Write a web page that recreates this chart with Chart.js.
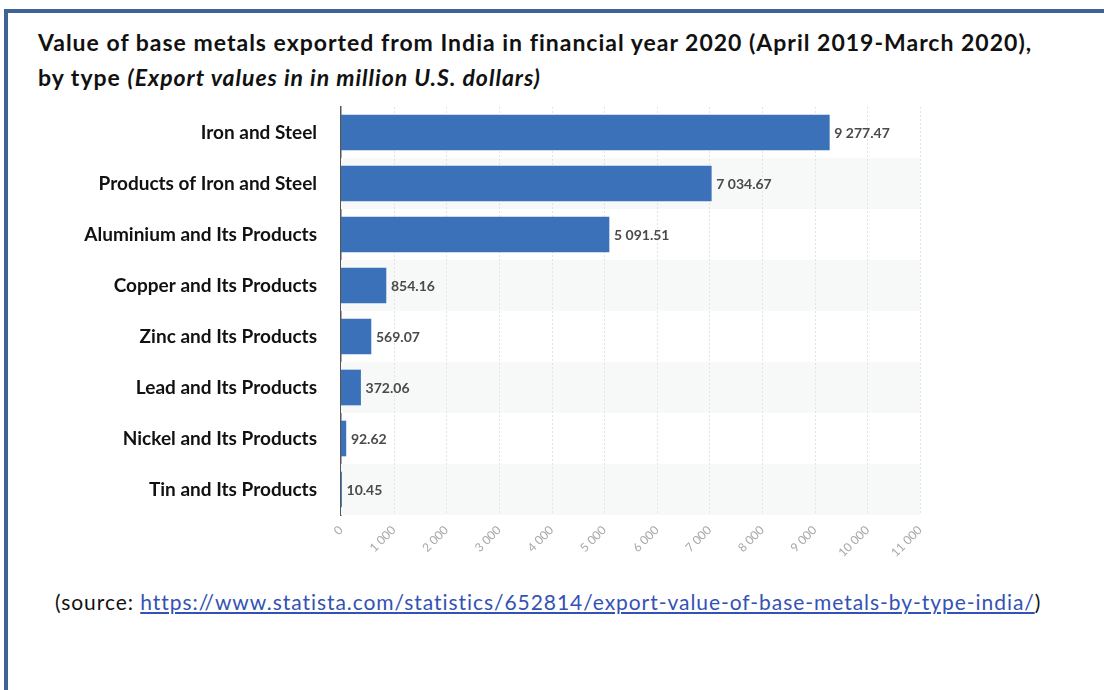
<!DOCTYPE html>
<html>
<head>
<meta charset="utf-8">
<script src="https://cdn.jsdelivr.net/npm/chart.js@4.4.1/dist/chart.umd.min.js"></script>
<style>
  html, body { margin: 0; padding: 0; background: #fff; }
  body { width: 1104px; height: 690px; position: relative; overflow: hidden; font-family: Lato, "Open Sans", sans-serif; }
  #frame { position: absolute; left: 4px; top: 9px; width: 1200px; height: 800px; border-left: 4px solid #406395; border-top: 4px solid #406395; box-sizing: border-box; }
  #title { position: absolute; left: 38px; top: 25px; font-weight: bold; font-size: 23px; letter-spacing: 1px; line-height: 35px; color: #111; white-space: nowrap; }
  #title i { font-style: italic; }
  #wrap { position: absolute; left: 0; top: 100px; width: 1104px; height: 480px; }
  #source { position: absolute; left: 55px; top: 589px; font-size: 21px; letter-spacing: 0.95px; color: #111; white-space: nowrap; }
  #source a { color: #3352b5; text-decoration: underline; }
</style>
</head>
<body>
<div id="frame"></div>
<div id="title">Value of base metals exported from India in financial year 2020 (April 2019-March 2020),<br>by type <i>(Export values in in million U.S. dollars)</i></div>
<div id="wrap"><canvas id="c" width="1104" height="480"></canvas></div>
<div id="source">(source: <a href="#">https://www.statista.com/statistics/652814/export-value-of-base-metals-by-type-india/</a>)</div>
<script>
const categories = [
  "Iron and Steel",
  "Products of Iron and Steel",
  "Aluminium and Its Products",
  "Copper and Its Products",
  "Zinc and Its Products",
  "Lead and Its Products",
  "Nickel and Its Products",
  "Tin and Its Products"
];
const exportValues = [9277.47, 7034.67, 5091.51, 854.16, 569.07, 372.06, 92.62, 10.45];
const xTickValues = [0, 1000, 2000, 3000, 4000, 5000, 6000, 7000, 8000, 9000, 10000, 11000];

function fmtThousands(v, decimals) {
  const s = Number(v).toFixed(decimals);
  const parts = s.split('.');
  parts[0] = parts[0].replace(/\B(?=(\d{3})+(?!\d))/g, ' ');
  return parts.join('.');
}

const bandPlugin = {
  id: 'bands',
  beforeDatasetsDraw(chart) {
    const { ctx, chartArea, scales } = chart;
    const y = scales.y;
    const step = (chartArea.bottom - chartArea.top) / categories.length;
    ctx.save();
    ctx.fillStyle = '#f7f8f8';
    for (let i = 1; i < categories.length; i += 2) {
      const cy = y.getPixelForValue(i);
      ctx.fillRect(chartArea.left, cy - step / 2, chartArea.right - chartArea.left, step);
    }
    ctx.strokeStyle = '#e3e3e3';
    ctx.lineWidth = 1;
    ctx.setLineDash([2, 2]);
    xTickValues.forEach(v => {
      if (v === 0) return;
      const px = Math.round(scales.x.getPixelForValue(v)) + 0.5;
      ctx.beginPath();
      ctx.moveTo(px, chartArea.top);
      ctx.lineTo(px, chartArea.bottom);
      ctx.stroke();
    });
    ctx.restore();
  }
};

const labelPlugin = {
  id: 'valueLabels',
  afterDatasetsDraw(chart) {
    const { ctx } = chart;
    const meta = chart.getDatasetMeta(0);
    ctx.save();
    ctx.font = 'bold 14px Lato, "Open Sans", sans-serif';
    ctx.fillStyle = '#4a4a4a';
    ctx.textAlign = 'left';
    ctx.textBaseline = 'middle';
    meta.data.forEach((bar, i) => {
      ctx.fillText(fmtThousands(exportValues[i], 2), bar.x + 5, bar.y + 1);
    });
    ctx.restore();
  }
};

new Chart(document.getElementById('c'), {
  type: 'bar',
  data: {
    labels: categories,
    datasets: [{
      data: exportValues,
      backgroundColor: '#3a71b9',
      borderWidth: 0,
      barThickness: 35
    }]
  },
  plugins: [bandPlugin, labelPlugin],
  options: {
    indexAxis: 'y',
    responsive: false,
    animation: false,
    devicePixelRatio: 1,
    layout: { padding: { left: 0, right: 184, top: 7, bottom: 0 } },
    plugins: {
      legend: { display: false },
      tooltip: { enabled: false },
      title: { display: false }
    },
    scales: {
      x: {
        type: 'linear',
        min: 0,
        max: 11000,
        afterBuildTicks(scale) { scale.ticks = xTickValues.map(v => ({ value: v })); },
        afterFit(scale) { scale.height = 65; scale.paddingLeft = 0; scale.paddingRight = 0; scale.paddingTop = 0; scale.paddingBottom = 0; },
        grid: { display: false, drawTicks: false },
        border: { display: false },
        ticks: {
          minRotation: 45,
          maxRotation: 45,
          padding: 8,
          color: '#a8a8a8',
          font: { family: 'Lato, "Open Sans", sans-serif', size: 12 },
          callback: (v) => fmtThousands(v, 0)
        }
      },
      y: {
        afterFit(scale) { scale.width = 341; scale.paddingTop = 0; scale.paddingBottom = 0; scale.paddingLeft = 0; scale.paddingRight = 0; },
        grid: { display: false, drawTicks: false },
        border: { display: true, color: '#555555', width: 1.5 },
        ticks: {
          padding: 24,
          color: '#111111',
          font: { family: 'Lato, "Open Sans", sans-serif', size: 19, weight: 'bold' }
        }
      }
    }
  }
});
</script>
</body>
</html>
